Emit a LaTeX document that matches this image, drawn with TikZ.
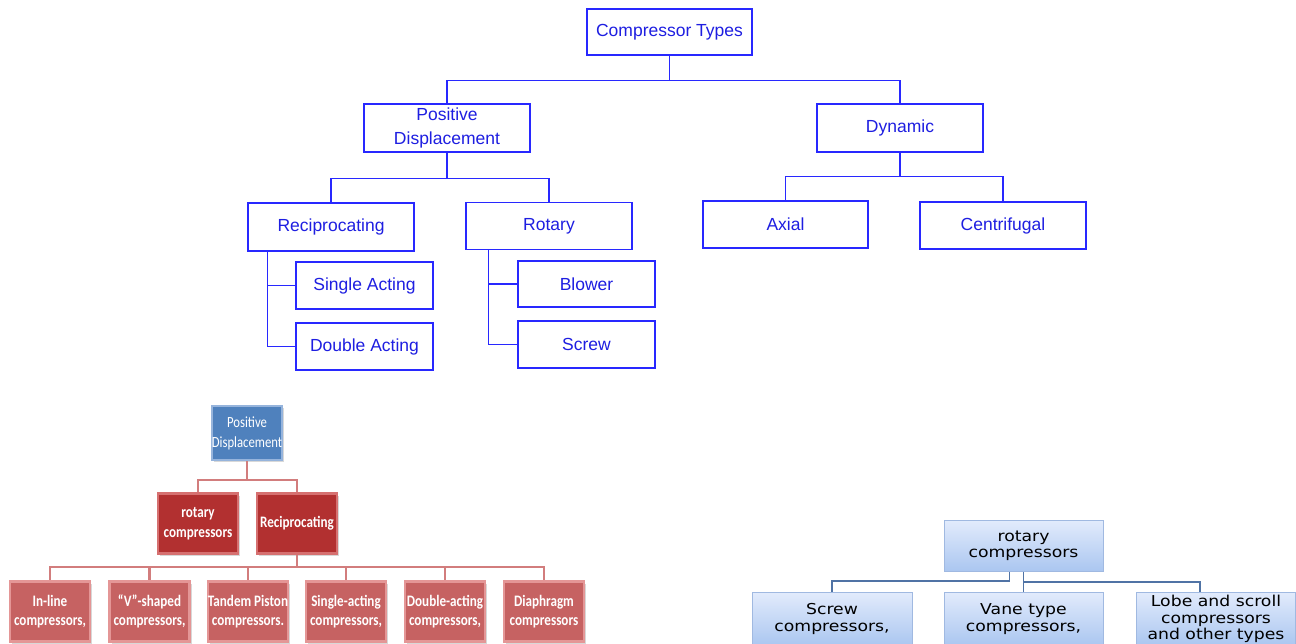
\documentclass[tikz,border=0pt]{standalone}
\usepackage{fontspec}
\setmainfont{Liberation Sans}
\newfontfamily\smartfont[FakeStretch=0.82]{Carlito}
\newfontfamily\widefont[FakeStretch=1.15]{DejaVu Sans}
\usepackage{tikz}
\usepackage{xcolor}
\usetikzlibrary{shadows}

\definecolor{chartblue}{RGB}{40,40,255}
\definecolor{charttext}{RGB}{30,30,225}
\definecolor{redfill}{RGB}{178,48,48}
\definecolor{rededge}{RGB}{214,112,112}
\definecolor{pinkfill}{RGB}{198,98,98}
\definecolor{pinkedge}{RGB}{228,150,150}
\definecolor{redstroke}{RGB}{210,125,125}
\definecolor{steelfill}{RGB}{79,129,189}
\definecolor{steeledge}{RGB}{150,180,220}
\definecolor{palelo}{RGB}{170,198,240}
\definecolor{palehi}{RGB}{226,235,252}
\definecolor{paleedge}{RGB}{160,185,225}
\definecolor{palestroke}{RGB}{80,115,165}

% top chart (blue outlines)
\tikzstyle{chartbox}=[
    draw = chartblue,
    line width = 1.4pt,
    text = charttext,
    align = center,
    inner sep = 0pt,
    minimum width = 166pt,
    minimum height = 47pt,
    font = \fontsize{17.5}{24}\selectfont
]
\tikzstyle{leafbox}=[
    chartbox,
    minimum width = 137pt
]
\tikzstyle{chartlink}=[chartblue, line width = 1.4pt]

% lower left chart (red blocks)
\tikzstyle{redbox}=[
    draw = rededge,
    line width = 2.5pt,
    fill = redfill,
    text = white,
    align = center,
    inner sep = 0pt,
    minimum width = 80pt,
    minimum height = 60pt,
    font = \smartfont\bfseries\fontsize{16}{20}\selectfont,
    drop shadow = {shadow xshift = 2pt, shadow yshift = -2pt, opacity = 0.3}
]
\tikzstyle{pinkbox}=[
    redbox,
    draw = pinkedge,
    fill = pinkfill,
    font = \smartfont\bfseries\fontsize{16}{19.5}\selectfont
]
\tikzstyle{steelbox}=[
    redbox,
    draw = steeledge,
    fill = steelfill,
    minimum width = 66pt,
    minimum height = 54pt,
    font = \smartfont\fontsize{15.5}{20}\selectfont
]
\tikzstyle{redlink}=[redstroke, line width = 2.2pt]

% lower right chart (pale blue blocks)
\tikzstyle{palebox}=[
    draw = paleedge,
    line width = 0.8pt,
    top color = palehi,
    bottom color = palelo,
    text = black,
    align = center,
    inner sep = 0pt,
    minimum width = 159pt,
    minimum height = 51pt,
    font = \widefont\fontsize{15}{16.5}\selectfont
]
\tikzstyle{palelink}=[palestroke, line width = 1.2pt]

\begin{document}
\begin{tikzpicture}[x = 1pt, y = -1pt]
    \useasboundingbox [fill = white] (0, 0) rectangle (1296, 644);

    \draw node [chartbox, minimum width = 165pt, minimum height = 46pt] (types) at (669.5, 32) {Compressor Types};
    \draw node [chartbox, minimum height = 48pt] (pd) at (447, 128) {Positive\\Displacement};
    \draw node [chartbox, minimum height = 48pt] (dyn) at (900, 128) {Dynamic};
    \draw node [chartbox, minimum height = 48pt] (rec) at (331, 227) {Reciprocating};
    \draw node [chartbox] (rot) at (549, 226) {Rotary};
    \draw node [chartbox, minimum width = 165pt] (axial) at (785.5, 224.5) {Axial};
    \draw node [chartbox] (cent) at (1003, 225.5) {Centrifugal};
    \draw node [leafbox] (single) at (364.5, 285.5) {Single Acting};
    \draw node [leafbox] (double) at (364.5, 346.5) {Double Acting};
    \draw node [leafbox, minimum height = 46pt] (blower) at (586.5, 284) {Blower};
    \draw node [leafbox] (screw) at (586.5, 344.5) {Screw};

    \draw [chartlink] (types.south) -- ++(0, 25) -| (pd.north);
    \draw [chartlink] (types.south) -- ++(0, 25) -| (dyn.north);
    \draw [chartlink] (pd.south) -- ++(0, 26) -| (rec.north);
    \draw [chartlink] (pd.south) -- ++(0, 26) -| (rot.north);
    \draw [chartlink] (dyn.south) -- ++(0, 24) -| (axial.north);
    \draw [chartlink] (dyn.south) -- ++(0, 24) -| (cent.north);
    \draw [chartlink] (rec.south west) ++(20, 0) |- (single.west);
    \draw [chartlink] (rec.south west) ++(20, 0) |- (double.west);
    \draw [chartlink] (rot.south west) ++(23, 0) |- (blower.west);
    \draw [chartlink] (rot.south west) ++(23, 0) |- (screw.west);

    % lower left
    \draw node [steelbox] (pdlow) at (247, 433) {Positive\\Displacement};
    \draw node [redbox] (rotlow) at (198, 523.5) {rotary\\compressors};
    \draw node [redbox] (reclow) at (297, 523.5) {Reciprocating};
    \draw node [pinkbox] (inline) at (50, 611.5) {In-line\\compressors,};
    \draw node [pinkbox] (vshape) at (149.5, 611.5) {“V”-shaped\\compressors,};
    \draw node [pinkbox] (tandem) at (248, 611.5) {Tandem Piston\\compressors.};
    \draw node [pinkbox] (sacting) at (346, 611.5) {Single-acting\\compressors,};
    \draw node [pinkbox] (dacting) at (445, 611.5) {Double-acting\\compressors,};
    \draw node [pinkbox] (diaphragm) at (544, 611.5) {Diaphragm\\compressors};

    \draw [redlink] (pdlow.south) -- ++(0, 19) -| (rotlow.north);
    \draw [redlink] (pdlow.south) -- ++(0, 19) -| (reclow.north);
    \draw [redlink] (reclow.south) -- ++(0, 12.5) -| (inline.north);
    \draw [redlink] (reclow.south) -- ++(0, 12.5) -| (vshape.north);
    \draw [redlink] (reclow.south) -- ++(0, 12.5) -| (tandem.north);
    \draw [redlink] (reclow.south) -- ++(0, 12.5) -| (sacting.north);
    \draw [redlink] (reclow.south) -- ++(0, 12.5) -| (dacting.north);
    \draw [redlink] (reclow.south) -- ++(0, 12.5) -| (diaphragm.north);

    % lower right
    \draw node [palebox] (rotpale) at (1023.5, 546) {rotary\\compressors};
    \draw node [palebox, minimum width = 160pt, minimum height = 54pt] (screwpale) at (832, 619) {Screw\\compressors,};
    \draw node [palebox, minimum height = 54pt] (vanepale) at (1023.5, 619) {Vane type\\compressors,};
    \draw node [palebox, minimum height = 54pt] (lobepale) at (1216, 619) {Lobe and scroll\\compressors\\and other types};
    \coordinate (lobetop) at (1200, 592);

    \draw [palelink] (rotpale.south) ++(-14, 0) -- ++(0, 9) -| (screwpale.north);
    \draw [palelink] (rotpale.south) -- (vanepale.north);
    \draw [palelink] (rotpale.south) ++(0, 10) -| (lobetop);
\end{tikzpicture}
\end{document}
